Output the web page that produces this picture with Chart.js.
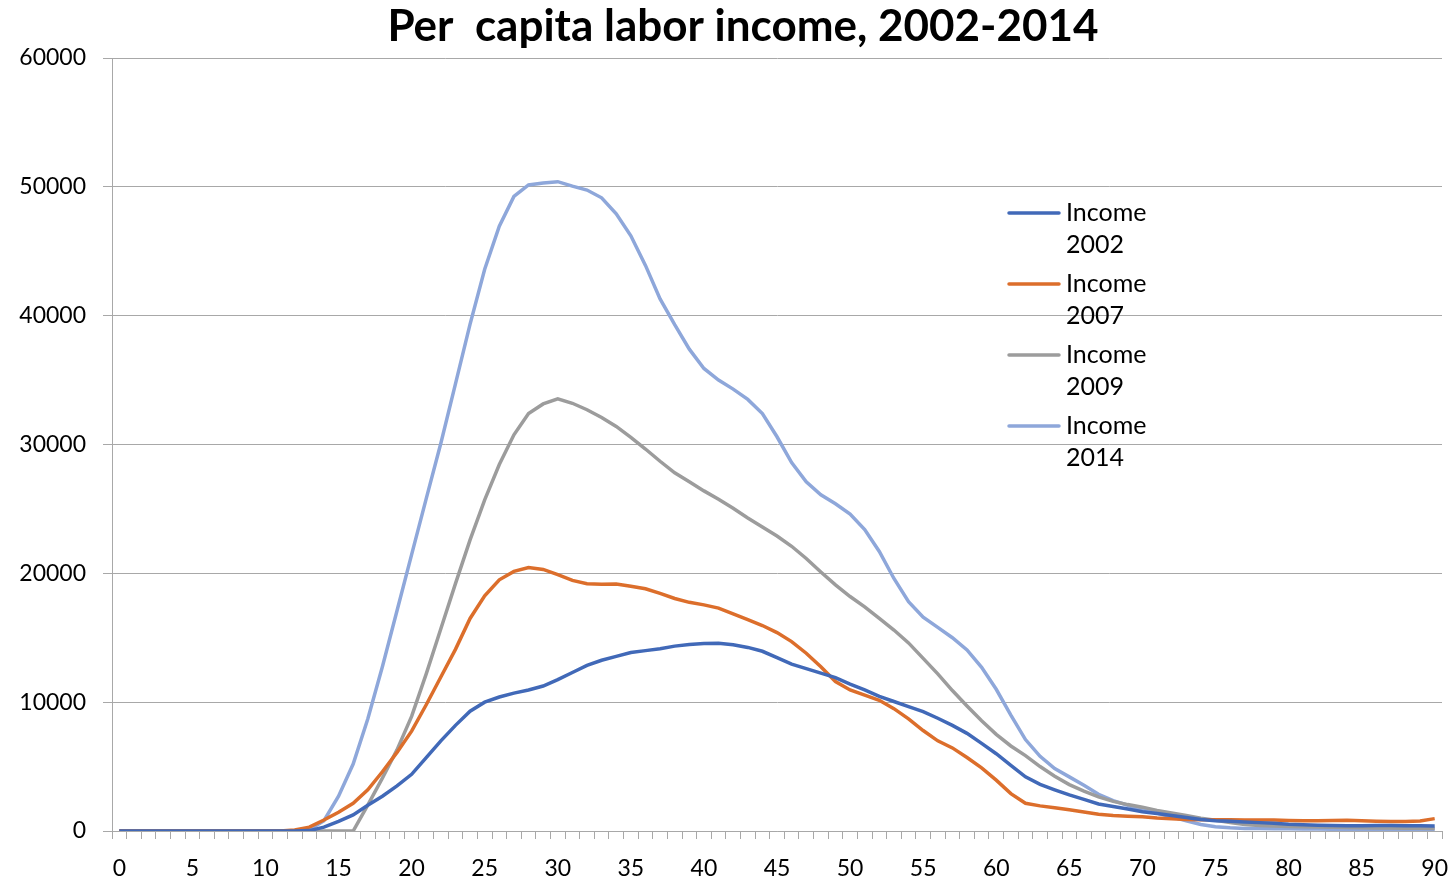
<!DOCTYPE html>
<html>
<head>
<meta charset="utf-8">
<script src="https://cdn.jsdelivr.net/npm/chart.js@4/dist/chart.umd.min.js"></script>
<style>
html,body{margin:0;padding:0;background:#fff;}
#wrap{width:1456px;height:878px;position:relative;}
</style>
</head>
<body>
<div id="wrap"><canvas id="c" width="1456" height="878"></canvas></div>
<script>
const chartTitle = 'Per  capita labor income, 2002-2014';
const ages = [0,1,2,3,4,5,6,7,8,9,10,11,12,13,14,15,16,17,18,19,20,21,22,23,24,25,26,27,28,29,30,31,32,33,34,35,36,37,38,39,40,41,42,43,44,45,46,47,48,49,50,51,52,53,54,55,56,57,58,59,60,61,62,63,64,65,66,67,68,69,70,71,72,73,74,75,76,77,78,79,80,81,82,83,84,85,86,87,88,89,90];
const seriesLabels = [['Income', '2002'], ['Income', '2007'], ['Income', '2009'], ['Income', '2014']];
const income2002 = [0,0,0,0,0,0,0,0,0,0,0,0,0,30,300,750,1250,2000,2700,3500,4400,5700,7000,8200,9300,10000,10400,10700,10950,11250,11750,12300,12850,13250,13550,13850,14000,14150,14350,14480,14550,14580,14450,14250,13950,13450,12950,12600,12250,11900,11400,10950,10450,10050,9650,9260,8750,8200,7580,6800,6000,5100,4200,3620,3200,2800,2450,2100,1900,1700,1500,1350,1200,1050,900,800,750,700,650,600,520,480,450,420,400,400,420,420,400,400,390];
const income2007 = [0,0,0,0,0,0,0,0,0,0,0,0,80,300,850,1450,2150,3200,4600,6100,7750,9800,11950,14100,16500,18250,19500,20150,20450,20300,19900,19450,19200,19150,19170,19000,18800,18450,18050,17750,17550,17300,16850,16400,15950,15400,14700,13800,12750,11600,10950,10550,10150,9500,8700,7800,7000,6450,5700,4900,3950,2900,2150,1950,1800,1650,1480,1300,1200,1150,1100,1000,950,900,880,870,870,860,860,850,820,800,800,820,830,800,760,740,730,780,960];
const income2009 = [0,0,0,0,0,0,0,0,0,0,0,0,0,0,0,0,0,2000,4100,6300,8900,12200,15700,19200,22600,25700,28450,30750,32400,33150,33550,33200,32700,32100,31400,30550,29650,28700,27800,27100,26400,25750,25050,24300,23600,22900,22100,21150,20100,19100,18200,17400,16500,15600,14600,13400,12200,10900,9700,8550,7500,6600,5850,5000,4250,3600,3100,2650,2300,2050,1850,1600,1400,1200,1000,830,650,500,420,380,350,330,310,290,270,250,240,230,220,210,200];
const income2014 = [0,0,0,0,0,0,0,0,0,0,0,0,0,100,800,2700,5200,8700,12750,17100,21450,25800,30100,34700,39350,43600,46950,49250,50150,50300,50400,50050,49750,49150,47900,46200,43900,41300,39300,37400,35900,35000,34300,33500,32400,30600,28600,27100,26100,25400,24600,23400,21700,19600,17800,16600,15800,15000,14050,12700,11000,9000,7100,5800,4850,4200,3550,2850,2350,2000,1650,1400,1100,800,500,330,250,200,200,180,170,160,150,140,130,120,110,110,100,100,100];
const yTicks = [0,10000,20000,30000,40000,50000,60000];
const seriesColors = ['#4169B8', '#DC6E2B', '#9C9C9C', '#8EA7DA'];

const FONT = 'Lato, "Open Sans", "DejaVu Sans", sans-serif';
const GRID = '#A8A8A8';

const titlePlugin = {
  id: 'customTitle',
  afterDraw(chart) {
    const ctx = chart.ctx;
    ctx.save();
    ctx.font = 'bold 44px ' + FONT;
    ctx.fillStyle = '#000';
    ctx.textAlign = 'center';
    ctx.textBaseline = 'middle';
    ctx.fillText(chartTitle, 743, 27);
    ctx.restore();
  }
};

const legendPlugin = {
  id: 'wrapLegend',
  afterDatasetsDraw(chart) {
    const ctx = chart.ctx;
    ctx.save();
    ctx.font = '25px ' + FONT;
    ctx.textBaseline = 'middle';
    ctx.textAlign = 'left';
    chart.data.datasets.forEach((ds, i) => {
      const y = 213 + i * 71;
      ctx.strokeStyle = ds.borderColor;
      ctx.lineWidth = 3.5;
      ctx.lineCap = 'round';
      ctx.beginPath();
      ctx.moveTo(1009, y);
      ctx.lineTo(1059, y);
      ctx.stroke();
      ctx.fillStyle = '#000';
      ds.label.forEach((t, j) => ctx.fillText(t, 1066, y + j * 32));
    });
    ctx.restore();
  }
};

const mk = (i, data) => ({
  label: seriesLabels[i],
  data: data,
  borderColor: seriesColors[i],
  backgroundColor: seriesColors[i],
  borderWidth: 3.5,
  pointRadius: 0,
  tension: 0,
  fill: false
});

new Chart(document.getElementById('c'), {
  type: 'line',
  data: {
    labels: ages,
    datasets: [mk(0, income2002), mk(1, income2007), mk(2, income2009), mk(3, income2014)]
  },
  options: {
    responsive: false,
    animation: false,
    events: [],
    layout: { padding: { top: 58, right: 14, left: 0, bottom: 0 } },
    plugins: { legend: { display: false }, title: { display: false }, tooltip: { enabled: false } },
    scales: {
      x: {
        type: 'category',
        offset: true,
        grid: { display: true, offset: true, drawOnChartArea: false, drawTicks: true, tickLength: 8, color: GRID, lineWidth: 1 },
        border: { display: true, color: GRID, width: 1 },
        ticks: {
          autoSkip: false,
          maxRotation: 0,
          minRotation: 0,
          padding: 16,
          color: '#000',
          font: { family: FONT, size: 23 },
          callback: function(v, idx) { return ages[idx] % 5 === 0 ? String(ages[idx]) : ''; }
        },
        afterFit(scale) { scale.height = 47; scale.paddingLeft = 0; scale.paddingRight = 0; }
      },
      y: {
        min: 0,
        max: 60000,
        afterBuildTicks(scale) { scale.ticks = yTicks.map(v => ({ value: v })); },
        grid: { color: GRID, lineWidth: 1, drawTicks: true, tickLength: 9 },
        border: { display: true, color: GRID, width: 1 },
        ticks: {
          padding: 17,
          color: '#000',
          font: { family: FONT, size: 23 },
          callback: v => String(v)
        },
        afterFit(scale) { scale.width = 112; scale.paddingTop = 0; scale.paddingBottom = 0; }
      }
    }
  },
  plugins: [titlePlugin, legendPlugin]
});
</script>
</body>
</html>
